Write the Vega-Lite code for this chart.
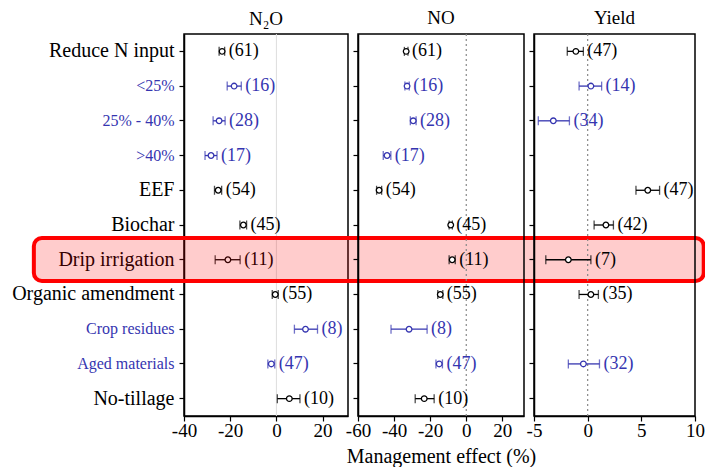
{
  "$schema": "https://vega.github.io/schema/vega-lite/v6.json",
  "background": "white",
  "padding": {"left": 10, "top": 8, "right": 0, "bottom": 0},
  "config": {
    "font": "Liberation Serif",
    "view": {"stroke": "black", "strokeWidth": 1.5},
    "axis": {"labelFont": "Liberation Serif", "titleFont": "Liberation Serif", "labelFontSize": 19, "titleFontSize": 20, "titleFontWeight": "normal", "labelColor": "black", "titleColor": "black", "domainColor": "black", "tickColor": "black", "tickSize": 5, "grid": false, "domainWidth": 1.5, "tickWidth": 1.2},
    "axisX": {"labelPadding": 0},
    "title": {"font": "Liberation Serif", "fontSize": 19, "fontWeight": "normal", "color": "black", "offset": 5}
  },
  "datasets": {
    "n2o": [
      {"group": "Reduce N input", "mean": -23.5, "lo": -24.8, "hi": -22.4, "label": "(61)", "kind": "main"},
      {"group": "<25%", "mean": -18.3, "lo": -21.3, "hi": -15.2, "label": "(16)", "kind": "sub"},
      {"group": "25% - 40%", "mean": -24.8, "lo": -27.4, "hi": -22.2, "label": "(28)", "kind": "sub"},
      {"group": ">40%", "mean": -28.3, "lo": -30.9, "hi": -25.7, "label": "(17)", "kind": "sub"},
      {"group": "EEF", "mean": -25.2, "lo": -26.8, "hi": -23.7, "label": "(54)", "kind": "main"},
      {"group": "Biochar", "mean": -14.3, "lo": -15.8, "hi": -12.9, "label": "(45)", "kind": "main"},
      {"group": "Drip irrigation", "mean": -21.0, "lo": -26.5, "hi": -15.7, "label": "(11)", "kind": "main"},
      {"group": "Organic amendment", "mean": -0.5, "lo": -1.8, "hi": 0.8, "label": "(55)", "kind": "main"},
      {"group": "Crop residues", "mean": 12.6, "lo": 7.8, "hi": 17.8, "label": "(8)", "kind": "sub"},
      {"group": "Aged materials", "mean": -2.2, "lo": -3.7, "hi": -0.7, "label": "(47)", "kind": "sub"},
      {"group": "No-tillage", "mean": 5.6, "lo": 0.4, "hi": 10.2, "label": "(10)", "kind": "main"}
    ],
    "no": [
      {"group": "Reduce N input", "mean": -33.3, "lo": -34.3, "hi": -32.3, "label": "(61)", "kind": "main"},
      {"group": "<25%", "mean": -32.8, "lo": -34.0, "hi": -31.6, "label": "(16)", "kind": "sub"},
      {"group": "25% - 40%", "mean": -29.4, "lo": -31.0, "hi": -27.8, "label": "(28)", "kind": "sub"},
      {"group": ">40%", "mean": -43.9, "lo": -46.0, "hi": -41.8, "label": "(17)", "kind": "sub"},
      {"group": "EEF", "mean": -48.3, "lo": -49.7, "hi": -46.9, "label": "(54)", "kind": "main"},
      {"group": "Biochar", "mean": -8.6, "lo": -9.5, "hi": -7.7, "label": "(45)", "kind": "main"},
      {"group": "Drip irrigation", "mean": -7.8, "lo": -9.5, "hi": -6.1, "label": "(11)", "kind": "main"},
      {"group": "Organic amendment", "mean": -14.4, "lo": -15.8, "hi": -13.0, "label": "(55)", "kind": "main"},
      {"group": "Crop residues", "mean": -31.7, "lo": -41.7, "hi": -21.7, "label": "(8)", "kind": "sub"},
      {"group": "Aged materials", "mean": -15.0, "lo": -16.8, "hi": -13.2, "label": "(47)", "kind": "sub"},
      {"group": "No-tillage", "mean": -23.3, "lo": -28.3, "hi": -17.8, "label": "(10)", "kind": "main"}
    ],
    "yield": [
      {"group": "Reduce N input", "mean": -1.1, "lo": -1.9, "hi": -0.4, "label": "(47)", "kind": "main"},
      {"group": "<25%", "mean": 0.3, "lo": -0.8, "hi": 1.3, "label": "(14)", "kind": "sub"},
      {"group": "25% - 40%", "mean": -3.2, "lo": -4.6, "hi": -1.7, "label": "(34)", "kind": "sub"},
      {"group": "EEF", "mean": 5.6, "lo": 4.5, "hi": 6.7, "label": "(47)", "kind": "main"},
      {"group": "Biochar", "mean": 1.7, "lo": 0.6, "hi": 2.4, "label": "(42)", "kind": "main"},
      {"group": "Drip irrigation", "mean": -1.8, "lo": -3.9, "hi": 0.3, "label": "(7)", "kind": "main"},
      {"group": "Organic amendment", "mean": 0.3, "lo": -0.8, "hi": 1.0, "label": "(35)", "kind": "main"},
      {"group": "Aged materials", "mean": -0.4, "lo": -1.8, "hi": 1.1, "label": "(32)", "kind": "sub"}
    ]
  },
  "bounds": "flush",
  "spacing": 10,
  "hconcat": [
    {
      "width": 164, "height": 382,
      "title": "N₂O",
      "layer": [
        {
          "data": {"values": [{}]},
          "mark": {"type": "rule", "color": "#dddddd", "strokeWidth": 1},
          "encoding": {"x": {"datum": 0, "type": "quantitative"}}
        },
        {
          "data": {"name": "n2o"},
          "mark": {"type": "errorbar", "ticks": {"size": 9, "thickness": 1.3}, "thickness": 1.3},
          "encoding": {
            "x": {"field": "lo", "type": "quantitative", "scale": {"domain": [-40, 31], "nice": false, "zero": false}, "axis": {"values": [-40, -20, 0, 20], "title": null, "labelExpr": "'' + datum.value", "labelFlush": false, "labelOverlap": false}},
            "x2": {"field": "hi"},
            "y": {"field": "group", "type": "nominal", "sort": null, "title": null,
              "scale": {"domain": ["Reduce N input", "<25%", "25% - 40%", ">40%", "EEF", "Biochar", "Drip irrigation", "Organic amendment", "Crop residues", "Aged materials", "No-tillage"], "paddingInner": 0, "paddingOuter": 0},
              "axis": {"labelPadding": 5, "labelColor": {"condition": {"test": "indexof(['<25%','25% - 40%','>40%','Crop residues','Aged materials'], datum.value) >= 0", "value": "#3535b0"}, "value": "black"}, "labelFontSize": {"condition": {"test": "indexof(['<25%','25% - 40%','>40%','Crop residues','Aged materials'], datum.value) >= 0", "value": 16}, "value": 20}}},
            "color": {"field": "kind", "type": "nominal", "scale": {"domain": ["main", "sub"], "range": ["black", "#3535b0"]}, "legend": null}
          }
        },
        {
          "data": {"name": "n2o"},
          "mark": {"type": "point", "shape": "circle", "filled": false, "fill": "white", "size": 32, "strokeWidth": 1.3, "opacity": 1},
          "encoding": {
            "x": {"field": "mean", "type": "quantitative"},
            "y": {"field": "group", "type": "nominal", "sort": null},
            "color": {"field": "kind", "type": "nominal", "legend": null}
          }
        },
        {
          "data": {"name": "n2o"},
          "mark": {"type": "text", "align": "left", "baseline": "middle", "dx": 4, "fontSize": 18, "font": "Liberation Serif"},
          "encoding": {
            "x": {"field": "hi", "type": "quantitative"},
            "y": {"field": "group", "type": "nominal", "sort": null},
            "text": {"field": "label"},
            "color": {"field": "kind", "type": "nominal", "legend": null}
          }
        },
        {
          "data": {"values": [{}]},
          "mark": {"type": "rect", "fill": "#ff0000", "fillOpacity": 0.2, "stroke": "#ff0000", "strokeWidth": 4, "cornerRadius": 8},
          "encoding": {
            "x": {"datum": -105, "type": "quantitative"},
            "x2": {"datum": 185},
            "y": {"datum": "Biochar", "type": "nominal", "bandPosition": 0.875},
            "y2": {"datum": "Organic amendment", "bandPosition": 0.11}
          }
        }
      ]
    },
    {
      "width": 166, "height": 382,
      "title": "NO",
      "layer": [
        {
          "data": {"values": [{}]},
          "mark": {"type": "rule", "color": "#888888", "strokeWidth": 1.2, "strokeDash": [2, 3]},
          "encoding": {"x": {"datum": 0, "type": "quantitative"}}
        },
        {
          "data": {"name": "no"},
          "mark": {"type": "errorbar", "ticks": {"size": 9, "thickness": 1.3}, "thickness": 1.3},
          "encoding": {
            "x": {"field": "lo", "type": "quantitative", "scale": {"domain": [-60, 32], "nice": false, "zero": false}, "axis": {"values": [-60, -40, -20, 0, 20], "title": "Management effect (%)", "titlePadding": 6, "labelExpr": "'' + datum.value", "labelFlush": false, "labelOverlap": false}},
            "x2": {"field": "hi"},
            "y": {"field": "group", "type": "nominal", "sort": null, "title": null,
              "scale": {"domain": ["Reduce N input", "<25%", "25% - 40%", ">40%", "EEF", "Biochar", "Drip irrigation", "Organic amendment", "Crop residues", "Aged materials", "No-tillage"], "paddingInner": 0, "paddingOuter": 0},
              "axis": {"labels": false}},
            "color": {"field": "kind", "type": "nominal", "scale": {"domain": ["main", "sub"], "range": ["black", "#3535b0"]}, "legend": null}
          }
        },
        {
          "data": {"name": "no"},
          "mark": {"type": "point", "shape": "circle", "filled": false, "fill": "white", "size": 32, "strokeWidth": 1.3, "opacity": 1},
          "encoding": {
            "x": {"field": "mean", "type": "quantitative"},
            "y": {"field": "group", "type": "nominal", "sort": null},
            "color": {"field": "kind", "type": "nominal", "legend": null}
          }
        },
        {
          "data": {"name": "no"},
          "mark": {"type": "text", "align": "left", "baseline": "middle", "dx": 4, "fontSize": 18, "font": "Liberation Serif"},
          "encoding": {
            "x": {"field": "hi", "type": "quantitative"},
            "y": {"field": "group", "type": "nominal", "sort": null},
            "text": {"field": "label"},
            "color": {"field": "kind", "type": "nominal", "legend": null}
          }
        }
      ]
    },
    {
      "width": 161, "height": 382,
      "title": "Yield",
      "layer": [
        {
          "data": {"values": [{}]},
          "mark": {"type": "rule", "color": "#888888", "strokeWidth": 1.2, "strokeDash": [2, 3]},
          "encoding": {"x": {"datum": 0, "type": "quantitative"}}
        },
        {
          "data": {"name": "yield"},
          "mark": {"type": "errorbar", "ticks": {"size": 9, "thickness": 1.3}, "thickness": 1.3},
          "encoding": {
            "x": {"field": "lo", "type": "quantitative", "scale": {"domain": [-5, 10], "nice": false, "zero": false}, "axis": {"values": [-5, 0, 5, 10], "title": null, "labelExpr": "'' + datum.value", "labelFlush": false, "labelOverlap": false}},
            "x2": {"field": "hi"},
            "y": {"field": "group", "type": "nominal", "sort": null, "title": null,
              "scale": {"domain": ["Reduce N input", "<25%", "25% - 40%", ">40%", "EEF", "Biochar", "Drip irrigation", "Organic amendment", "Crop residues", "Aged materials", "No-tillage"], "paddingInner": 0, "paddingOuter": 0},
              "axis": {"labels": false}},
            "color": {"field": "kind", "type": "nominal", "scale": {"domain": ["main", "sub"], "range": ["black", "#3535b0"]}, "legend": null}
          }
        },
        {
          "data": {"name": "yield"},
          "mark": {"type": "point", "shape": "circle", "filled": false, "fill": "white", "size": 32, "strokeWidth": 1.3, "opacity": 1},
          "encoding": {
            "x": {"field": "mean", "type": "quantitative"},
            "y": {"field": "group", "type": "nominal", "sort": null},
            "color": {"field": "kind", "type": "nominal", "legend": null}
          }
        },
        {
          "data": {"name": "yield"},
          "mark": {"type": "text", "align": "left", "baseline": "middle", "dx": 4, "fontSize": 18, "font": "Liberation Serif"},
          "encoding": {
            "x": {"field": "hi", "type": "quantitative"},
            "y": {"field": "group", "type": "nominal", "sort": null},
            "text": {"field": "label"},
            "color": {"field": "kind", "type": "nominal", "legend": null}
          }
        }
      ]
    }
  ]
}
